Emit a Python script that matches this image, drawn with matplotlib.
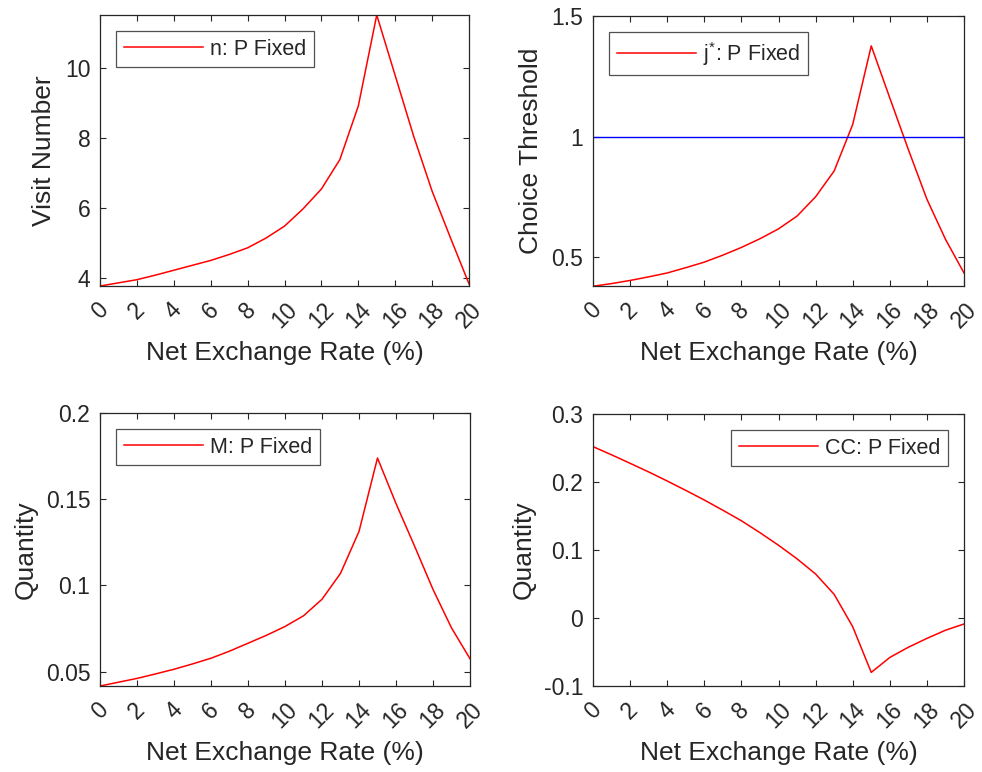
import matplotlib
matplotlib.use('Agg')
import matplotlib.pyplot as plt
import numpy as np

plt.rcParams['font.family'] = ['Liberation Sans', 'DejaVu Sans']
plt.rcParams['mathtext.fontset'] = 'custom'
plt.rcParams['mathtext.rm'] = 'Liberation Sans'
plt.rcParams['mathtext.it'] = 'Liberation Sans'

# net exchange rate (%)
rate = list(range(0, 21))

visit_number = [3.76, 3.85, 3.94, 4.07, 4.21, 4.35, 4.49, 4.66, 4.85, 5.13, 5.47,
                5.96, 6.53, 7.37, 8.90, 11.50, 9.77, 8.04, 6.47, 5.13, 3.82]
choice_threshold = [0.379, 0.390, 0.403, 0.418, 0.434, 0.456, 0.479, 0.508, 0.540, 0.576, 0.617,
                    0.670, 0.750, 0.857, 1.050, 1.376, 1.160, 0.946, 0.740, 0.574, 0.434]
quantity_m = [0.0417, 0.0439, 0.0461, 0.0487, 0.0514, 0.0545, 0.0578, 0.0619, 0.0665, 0.0711, 0.0762,
              0.0824, 0.0920, 0.1070, 0.1313, 0.1739, 0.1475, 0.1229, 0.0977, 0.0754, 0.0575]
quantity_cc = [0.252, 0.240, 0.2275, 0.2148, 0.2015, 0.1877, 0.1735, 0.1585, 0.1430, 0.1255, 0.1070,
               0.0870, 0.0647, 0.0348, -0.0128, -0.0800, -0.0580, -0.0430, -0.0300, -0.0180, -0.0088]
threshold_ref = 1.0

xticks = list(range(0, 21, 2))
fg = '#262626'

fig = plt.figure(figsize=(9.82, 7.72), dpi=100)
W, H = 982, 772


def make_axes(l, r, t, b):
    return fig.add_axes([l / W, 1 - b / H, (r - l) / W, (b - t) / H])


ax_tl = make_axes(100, 469, 15, 286)
ax_tr = make_axes(593, 964, 16, 286)
ax_bl = make_axes(100, 470, 413, 686)
ax_br = make_axes(593, 964, 414, 686)


def style(ax, ylim, yticks, yticklabels, ylabel):
    ax.set_xlim(0, 20)
    ax.set_ylim(*ylim)
    ax.set_xticks(xticks)
    ax.set_xticklabels([str(v) for v in xticks], rotation=45, ha='center', va='top')
    ax.set_yticks(yticks)
    ax.set_yticklabels(yticklabels)
    ax.tick_params(direction='in', top=True, right=True, length=4, width=0.8,
                   color=fg, labelcolor=fg, labelsize=16.5)
    ax.tick_params(axis='x', pad=9)
    ax.tick_params(axis='y', pad=7)
    for s in ax.spines.values():
        s.set_color(fg)
        s.set_linewidth(0.9)
    ax.set_xlabel('Net Exchange Rate (%)', fontsize=19, color=fg, labelpad=6)
    ax.set_ylabel(ylabel, fontsize=19, color=fg, labelpad=6)


def legend(ax, loc):
    leg = ax.legend(loc=loc, fontsize=15.5, handlelength=3.7, fancybox=False,
                    borderaxespad=0.75, handletextpad=0.3, borderpad=0.35)
    leg.get_frame().set_edgecolor(fg)
    leg.get_frame().set_linewidth(0.9)
    for t in leg.get_texts():
        t.set_color(fg)


ax_tl.plot(rate, visit_number, color='#ff0000', lw=1.1, label='n: P Fixed')
style(ax_tl, (3.76, 11.5), [4, 6, 8, 10], ['4', '6', '8', '10'], 'Visit Number')
legend(ax_tl, 'upper left')

ax_tr.plot(rate, choice_threshold, color='#ff0000', lw=1.1, label=r'j$^{*}$: P Fixed')
ax_tr.axhline(threshold_ref, color='#0000ff', lw=1.0)
style(ax_tr, (0.38, 1.5), [0.5, 1, 1.5], ['0.5', '1', '1.5'], 'Choice Threshold')
legend(ax_tr, 'upper left')

ax_bl.plot(rate, quantity_m, color='#ff0000', lw=1.1, label='M: P Fixed')
style(ax_bl, (0.0417, 0.2), [0.05, 0.1, 0.15, 0.2], ['0.05', '0.1', '0.15', '0.2'], 'Quantity')
legend(ax_bl, 'upper left')

ax_br.plot(rate, quantity_cc, color='#ff0000', lw=1.1, label='CC: P Fixed')
style(ax_br, (-0.1, 0.3), [-0.1, 0, 0.1, 0.2, 0.3], ['-0.1', '0', '0.1', '0.2', '0.3'], 'Quantity')
legend(ax_br, 'upper right')

fig.savefig('out.png', dpi=100)
